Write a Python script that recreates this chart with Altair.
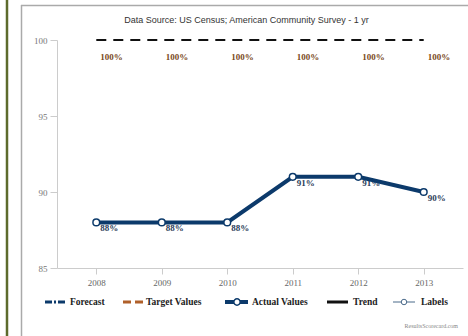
import altair as alt
import pandas as pd

years = [2008, 2009, 2010, 2011, 2012, 2013]
actual = [88, 88, 88, 91, 91, 90]
actual_labels = ["88%", "88%", "88%", "91%", "91%", "90%"]
target = [100, 100, 100, 100, 100, 100]
target_labels = ["100%", "100%", "100%", "100%", "100%", "100%"]
y_ticks = [85, 90, 95, 100]
title_text = "Data Source: US Census; American Community Survey - 1 yr"
legend_names = ["Forecast", "Target Values", "Actual Values", "Trend", "Labels"]
credit = "ResultsScorecard.com"

NAVY = "#0c3a6b"
BROWN = "#7a4a1c"
SERIF = "Liberation Serif"

df = pd.DataFrame({
    "year": years,
    "actual": actual,
    "alabel": actual_labels,
    "target": target,
    "tlabel": target_labels,
})

x_enc = alt.X("year:O", scale=alt.Scale(type="point", padding=0.6),
              axis=alt.Axis(title=None, labelAngle=0, domainColor="#cccccc",
                            tickColor="#cccccc", tickSize=6, labelPadding=4,
                            labelFont=SERIF, labelFontSize=9, labelColor="#666666"))
y_scale = alt.Scale(domain=[85, 100], nice=False, zero=False)

base = alt.Chart(df)

target_line = base.mark_line(color="#111111", strokeWidth=1.8, strokeDash=[10, 7]).encode(
    x=x_enc,
    y=alt.Y("target:Q", scale=y_scale,
            axis=alt.Axis(title=None, values=y_ticks, grid=False, domainColor="#cccccc",
                          tickColor="#cccccc", tickSize=7, labelPadding=3,
                          labelFont=SERIF, labelFontSize=9, labelColor="#777777")),
)
target_text = base.mark_text(align="left", baseline="middle", dx=4, dy=17, font=SERIF,
                             fontWeight="bold", fontSize=9, color=BROWN).encode(
    x="year:O", y=alt.Y("target:Q", scale=y_scale), text="tlabel:N")

actual_text = base.mark_text(align="left", baseline="middle", dx=4, dy=6, font=SERIF,
                             fontWeight="bold", fontSize=9, color="#2b3d5a").encode(
    x="year:O", y=alt.Y("actual:Q", scale=y_scale), text="alabel:N")
actual_line = base.mark_line(color=NAVY, strokeWidth=4).encode(
    x="year:O", y=alt.Y("actual:Q", scale=y_scale))
actual_pts = base.mark_point(filled=True, fill="white", stroke=NAVY, strokeWidth=1.5,
                             size=45, opacity=1).encode(
    x="year:O", y=alt.Y("actual:Q", scale=y_scale))

one = alt.Chart(pd.DataFrame({"k": [0]}))

def rule(x1, x2, y1, y2, color, width, dash=None):
    kw = dict(color=color, strokeWidth=width)
    if dash is not None:
        kw["strokeDash"] = dash
    return one.mark_rule(**kw).encode(x=alt.value(x1), x2=alt.value(x2),
                                      y=alt.value(y1), y2=alt.value(y2))

def label(x, y, txt, **kw):
    return one.mark_text(**kw).encode(x=alt.value(x), y=alt.value(y), text=alt.value(txt))

# frame decorations (plot origin at 57,40)
deco = [
    rule(-50, -50, -40, 296, "#5d6b2c", 2.5),
    rule(-35.5, -35.5, -35, 296, "#aaaaaa", 1.5),
    rule(-36, 411, -34.5, -34.5, "#aaaaaa", 1.5),
    label(189.5, -20, title_text, font="Liberation Sans", fontSize=9, color="#333333",
          align="center", baseline="middle"),
    label(401, 286, credit, font=SERIF, fontSize=6, color="#888888",
          align="right", baseline="middle"),
]

LY = 262
lg_kw = dict(font=SERIF, fontWeight="bold", fontSize=9.5, color="#222222",
             align="left", baseline="middle")
legend = [
    rule(-12, 10, LY, LY, NAVY, 3, [7, 2, 2, 2]),
    label(13, LY, legend_names[0], **lg_kw),
    rule(66, 86, LY, LY, "#b0602a", 3, [8, 4]),
    label(89, LY, legend_names[1], **lg_kw),
    rule(168, 191, LY, LY, NAVY, 4),
    one.mark_point(filled=True, fill="white", stroke=NAVY, strokeWidth=1.5, size=40,
                   opacity=1).encode(x=alt.value(180), y=alt.value(LY)),
    label(195, LY, legend_names[2], **lg_kw),
    rule(270, 291, LY, LY, "#111111", 3),
    label(296, LY, legend_names[3], **lg_kw),
    rule(336, 358, LY, LY, "#4a6a8a", 1),
    one.mark_point(filled=True, fill="white", stroke="#4a6a8a", strokeWidth=1, size=30,
                   opacity=1).encode(x=alt.value(347), y=alt.value(LY)),
    label(364, LY, legend_names[4], **lg_kw),
]

chart = alt.layer(
    target_line, target_text, actual_text, actual_line, actual_pts, *deco, *legend
).properties(
    width=406, height=228,
    autosize=alt.AutoSizeParams(type="none"),
    padding={"left": 57, "top": 40, "right": 5, "bottom": 68},
    background="white",
).configure_view(stroke=None)

chart.save("out.html", embed_options={"renderer": "svg", "actions": False})
